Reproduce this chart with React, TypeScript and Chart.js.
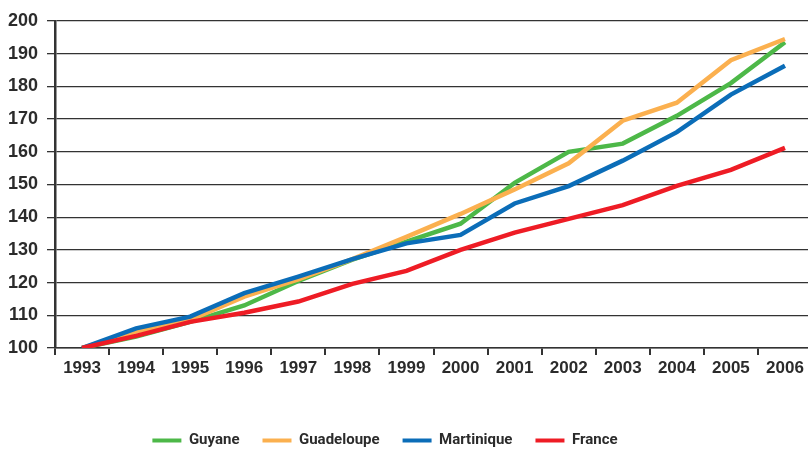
import React, { useEffect, useRef } from 'react';
import { Chart, registerables } from 'chart.js';

Chart.register(...registerables);

const years = ['1993', '1994', '1995', '1996', '1997', '1998', '1999', '2000', '2001', '2002', '2003', '2004', '2005', '2006'];
const guyane = [100, 103.5, 108, 113, 120.5, 127, 132.5, 138, 150.5, 160, 162.5, 171, 181, 193.5];
const guadeloupe = [100, 105, 108.6, 115.7, 121, 127.2, 134, 141, 148.5, 156.5, 169.5, 175, 188, 194.5];
const martinique = [100, 106, 109.6, 116.8, 121.8, 127.2, 132, 134.6, 144.2, 149.5, 157.3, 166, 177.5, 186.3];
const france = [100, 103.7, 108, 110.8, 114.2, 119.6, 123.6, 130, 135.3, 139.5, 143.7, 149.6, 154.5, 161.2];

const GREEN = '#4db848';
const ORANGE = '#fbb04f';
const BLUE = '#0b6db8';
const RED = '#ee1c25';
const TEXT = '#2b2b2b';
const FONT = "'Liberation Sans', Arial, sans-serif";
const LEGEND_FONT = "Roboto, 'Liberation Sans', sans-serif";

export default function App() {
  const ref = useRef<HTMLCanvasElement>(null);
  useEffect(() => {
    document.body.style.margin = '0';
    const legendShift = {
      id: 'legendShift',
      afterLayout(chart: any) {
        const lg = chart.legend;
        if (!lg) return;
        const d = 377 - (lg.left + lg.right) / 2;
        lg.left += d;
        lg.right += d;
      },
    };
    const chart = new Chart(ref.current as HTMLCanvasElement, {
      type: 'line',
      data: {
        labels: years,
        datasets: [
          { label: 'France', data: france, borderColor: RED, backgroundColor: RED },
          { label: 'Martinique', data: martinique, borderColor: BLUE, backgroundColor: BLUE },
          { label: 'Guadeloupe', data: guadeloupe, borderColor: ORANGE, backgroundColor: ORANGE },
          { label: 'Guyane', data: guyane, borderColor: GREEN, backgroundColor: GREEN },
        ],
      },
      options: {
        responsive: false,
        animation: false,
        layout: { padding: 0 },
        elements: {
          line: { borderWidth: 4.5, tension: 0, borderCapStyle: 'butt' },
          point: { radius: 0, hoverRadius: 0 },
        },
        plugins: {
          legend: {
            position: 'bottom',
            reverse: true,
            labels: {
              boxWidth: 29,
              boxHeight: 4,
              padding: 23,
              color: TEXT,
              font: { family: LEGEND_FONT, size: 15, weight: 'bold' },
              generateLabels: (c: any) =>
                (Chart.defaults.plugins.legend.labels.generateLabels as any)(c).map((it: any) => ({ ...it, lineWidth: 0 })),
            },
          },
          tooltip: { enabled: false },
        },
        scales: {
          x: {
            offset: true,
            grid: { offset: true, drawOnChartArea: false, tickLength: 7, color: '#333', lineWidth: 2 },
            border: { color: '#333', width: 1.5 },
            ticks: { color: TEXT, font: { family: FONT, size: 17, weight: 'bold' }, padding: 3, maxRotation: 0, autoSkip: false },
            afterFit: (s: any) => {
              s.height = 62;
            },
          },
          y: {
            min: 100,
            max: 200,
            ticks: { stepSize: 10, padding: 9, color: TEXT, font: { family: FONT, size: 18, weight: 'bold' } },
            grid: { color: '#333', lineWidth: 1.3, tickLength: 8 },
            border: { color: '#333', width: 2.5 },
            afterFit: (s: any) => {
              s.width = 47;
              s.paddingTop = 13;
              s.paddingBottom = 0;
            },
          },
        },
      } as any,
      plugins: [legendShift],
    });
    return () => chart.destroy();
  }, []);
  return (
    <div style={{ position: 'relative', width: 808, height: 449, overflow: 'hidden' }}>
      <canvas
        ref={ref}
        width={804}
        height={450}
        style={{ display: 'block', position: 'absolute', left: 8, top: 8 }}
      />
    </div>
  );
}
